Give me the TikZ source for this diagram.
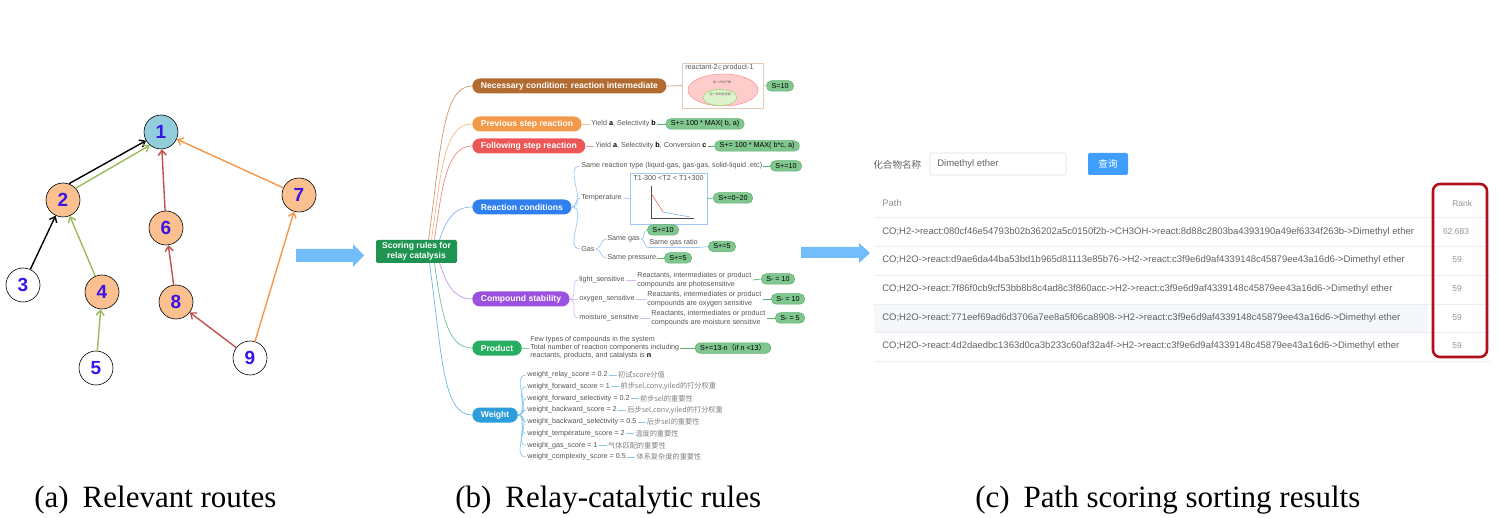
\documentclass[tikz,border=0pt]{standalone}
\usepackage{fontspec}
\setmainfont{Liberation Sans}
\newfontfamily\capfont{Liberation Serif}
\newfontfamily\cjk{Noto Sans CJK SC}
\usepackage{tikz}
\usetikzlibrary{arrows,arrows.meta,positioning,shapes.geometric}
\usepackage{xcolor}

\definecolor{numblue}{HTML}{3A14E6}
\definecolor{nodeorange}{HTML}{FAC090}
\definecolor{nodeblue}{HTML}{92CDDC}
\definecolor{edgegreen}{HTML}{9BBB59}
\definecolor{edgered}{HTML}{C0504D}
\definecolor{edgeorange}{HTML}{F79646}
\definecolor{flowblue}{HTML}{74BDFB}
\definecolor{rootgreen}{HTML}{1E9450}
\definecolor{brbrown}{HTML}{B26B30}
\definecolor{brorange}{HTML}{F2994A}
\definecolor{brred}{HTML}{EB5757}
\definecolor{brblue}{HTML}{2F80ED}
\definecolor{brpurple}{HTML}{9B51E0}
\definecolor{brgreen}{HTML}{27AE60}
\definecolor{brsky}{HTML}{2D9CDB}
\definecolor{pillgreen}{HTML}{80C78F}
\definecolor{pillline}{HTML}{5DAF6E}
\definecolor{subgray}{HTML}{555555}
\definecolor{notegray}{HTML}{808080}
\definecolor{tblgray}{HTML}{606266}
\definecolor{hdrgray}{HTML}{909399}
\definecolor{tblline}{HTML}{EBEEF5}
\definecolor{rowbg}{HTML}{F5F7FA}
\definecolor{btnblue}{HTML}{409EFF}
\definecolor{inborder}{HTML}{DCDFE6}
\definecolor{rankred}{HTML}{B0101C}

\newcommand{\mmfs}{\fontsize{7.2}{8.5}\selectfont}
\newcommand{\brfs}{\fontsize{8.6}{9.8}\selectfont\bfseries}
\newcommand{\tblfs}{\fontsize{9.5}{11}\selectfont}
\newcommand{\capfs}{\capfont\fontsize{31}{33}\selectfont}

\begin{document}
\begin{tikzpicture}[x=1pt,y=-1pt,>={Straight Barb[length=5pt,width=8pt]},semithick]
  \tikzstyle{route}=[circle,draw=black,line width=0.6pt,minimum size=34pt,inner sep=0pt,text=numblue,font=\fontsize{19}{19}\selectfont\bfseries]
  \tikzstyle{mid}=[route,fill=nodeorange]
  \tikzstyle{leaf}=[route,fill=white]
  \tikzstyle{goal}=[route,fill=nodeblue]
  \tikzstyle{link}=[->,line width=1.4pt]
  \tikzstyle{branch}=[anchor=west,rounded corners=7.5pt,minimum height=15pt,inner xsep=8.5pt,inner ysep=0pt,text=white,font=\brfs]
  \tikzstyle{pill}=[draw=pillline,fill=pillgreen,rounded corners=5pt,minimum height=10.5pt,inner xsep=5pt,inner ysep=0pt,line width=0.5pt,font=\mmfs,text=black]
  \tikzstyle{item}=[anchor=west,inner sep=1pt,font=\mmfs,text=subgray,align=left]
  \tikzstyle{twig}=[line width=0.7pt]
  \tikzstyle{witem}=[item]
  \tikzstyle{wnote}=[inner sep=1pt,font=\cjk\mmfs,text=notegray]
  \tikzstyle{cell}=[anchor=west,inner sep=0pt,font=\tblfs,text=tblgray]

  \useasboundingbox (0,0) rectangle (1498,518);

  % (a) relevant routes
  \node[goal] (n1) at (161,132) {1};
  \node[mid]  (n2) at (63,200)  {2};
  \node[leaf] (n3) at (23,285)  {3};
  \node[mid]  (n4) at (102,292) {4};
  \node[leaf] (n5) at (96,368)  {5};
  \node[mid]  (n6) at (166,228) {6};
  \node[mid]  (n7) at (299,195) {7};
  \node[mid]  (n8) at (176,302) {8};
  \node[leaf] (n9) at (250,358) {9};

  \path[link] (n3) edge[black] (n2)
        (n2.70) edge[black] (n1.210)
        (n5) edge[edgegreen] (n4)
        (n4) edge[edgegreen] (n2)
        (n2.43) edge[edgegreen] (n1.230)
        (n9) edge[edgered] (n8)
        (n8) edge[edgered] (n6)
        (n6) edge[edgered] (n1)
        (n9) edge[edgeorange] (n7)
        (n7) edge[edgeorange] (n1);

  % flow arrows
  \fill[flowblue] (296,249) -- (353,249) -- (353,244) -- (364,255.5) -- (353,267) -- (353,262) -- (296,262) -- cycle;
  \fill[flowblue] (801,247) -- (859,247) -- (859,243) -- (870,253) -- (859,263) -- (859,258) -- (801,258) -- cycle;

  % (b) mind map of the rules
  \node[fill=rootgreen,rounded corners=2pt,minimum width=81pt,minimum height=23pt,inner sep=1pt,align=center,text=white,font=\brfs] (root) at (416.5,251.5) {Scoring rules for\\relay catalysis};

  \node[branch,fill=brbrown]  (nec)  at (472,86)  {Necessary condition: reaction intermediate};
  \node[branch,fill=brorange] (prev) at (472,124) {Previous step reaction};
  \node[branch,fill=brred]    (foll) at (472,146) {Following step reaction};
  \node[branch,fill=brblue]   (rc)   at (472,207) {Reaction conditions};
  \node[branch,fill=brpurple] (cs)   at (472,299) {Compound stability};
  \node[branch,fill=brgreen]  (prod) at (472,348) {Product};
  \node[branch,fill=brsky]    (wt)   at (472,415) {Weight};

  \draw[twig,brbrown!70]  ([xshift=12pt]root.north) to[out=82,in=180,out distance=90pt,in distance=30pt] (nec.west);
  \draw[twig,brorange!70] ([xshift=15pt]root.north) to[out=82,in=180,out distance=70pt,in distance=28pt] (prev.west);
  \draw[twig,brred!70]    ([xshift=18pt]root.north) to[out=82,in=180,out distance=55pt,in distance=25pt] (foll.west);
  \draw[twig,brblue!60]   ([xshift=23pt]root.north) to[out=70,in=180,out distance=18pt,in distance=20pt] (rc.west);
  \draw[twig,brpurple!60] ([xshift=23pt]root.south) to[out=-70,in=180,out distance=18pt,in distance=20pt] (cs.west);
  \draw[twig,brgreen!70]  ([xshift=18pt]root.south) to[out=-82,in=180,out distance=50pt,in distance=25pt] (prod.west);
  \draw[twig,brsky!70]    ([xshift=13pt]root.south) to[out=-82,in=180,out distance=90pt,in distance=30pt] (wt.west);

  % necessary condition
  \node[draw=brbrown!35,line width=0.8pt,minimum width=81pt,minimum height=45pt,inner sep=0pt] (necbox) at (722.5,85.5) {};
  \node[item,inner sep=0pt] (nectitle) at (685,68) {reactant-2$\in$product-1};
  \node[ellipse,draw=red!45,fill=red!20,line width=0.5pt,minimum width=70pt,minimum height=32pt] (prodset) at (723,90) {};
  \node[ellipse,draw=green!50!olive!60,fill=yellow!35!green!20,line width=0.5pt,minimum width=34pt,minimum height=16pt] (reactset) at (720,97.5) {};
  \node[font=\cjk\fontsize{3}{3}\selectfont,text=subgray,inner sep=0pt] (prodlbl) at (722,82) {前一步的产物};
  \node[font=\cjk\fontsize{3}{3}\selectfont,text=subgray,inner sep=0pt] (reactlbl) at (720,94.5) {后一步的反应物};
  \node[pill] (p1) at (780,86) {S=10};
  \draw[twig,brbrown!60] (nec.east) -- (necbox.west);
  \draw[twig,brbrown!40] (necbox.east) -- (p1.west);

  % previous / following step
  \node[item] (t2) at (590,124) {Yield \textbf{\color{black}a}, Selectivity \textbf{\color{black}b}};
  \node[pill] (p2) at (705,124) {S+= 100 * MAX( b, a)};
  \draw[twig,brorange!60] (prev.east) -- (t2.west);
  \draw[twig,pillline] (t2.east) -- (p2.west);
  \node[item] (t3) at (594,146) {Yield \textbf{\color{black}a}, Selectivity \textbf{\color{black}b}, Conversion \textbf{\color{black}c}};
  \node[pill] (p3) at (757,146) {S+= 100 * MAX( b*c, a)};
  \draw[twig,brred!60] (foll.east) -- (t3.west);
  \draw[twig,pillline] (t3.east) -- (p3.west);

  % reaction conditions
  \node[item] (srt) at (580,166) {Same reaction type (liquid-gas, gas-gas, solid-liquid .etc)};
  \node[pill] (p4a) at (786,166) {S+=10};
  \node[item] (temp) at (580,198) {Temperature};
  \node[draw=brblue!45,line width=0.8pt,minimum width=77pt,minimum height=51pt,inner sep=0pt] (tbox) at (668.5,198.5) {};
  \node[font=\mmfs,text=subgray,inner sep=0pt] (trange) at (668.5,178.5) {T1-300 <T2 < T1+300};
  \draw[line width=0.4pt,black!70] (651,186) -- (651,218) -- (694,218);
  \draw[line width=0.5pt,red!70] (651,193) -- (663,212);
  \draw[line width=0.5pt,cyan!60!blue!60] (663,212) -- (690,217);
  \node[pill] (p4b) at (733,198) {S+=0\textasciitilde 20};
  \node[item] (gas) at (580,249) {Gas};
  \node[item] (sgas) at (606,239) {Same gas};
  \node[pill] (p4c) at (663,230) {S+=10};
  \node[item,anchor=south west] (ratio) at (648,247.5) {Same gas ratio};
  \node[pill] (p4d) at (722,246.5) {S+=5};
  \node[item] (spres) at (606,258) {Same pressure};
  \node[pill] (p4e) at (678,258) {S+=5};
  \draw[twig,brblue!45] (rc.east) to[out=0,in=180] (srt.west);
  \draw[twig,brblue!45] (rc.east) to[out=0,in=180] (temp.west);
  \draw[twig,brblue!45] (rc.east) to[out=0,in=180] (gas.west);
  \draw[twig,pillline] (srt.east) -- (p4a.west);
  \draw[twig,brblue!45] (temp.east) -- (tbox.west);
  \draw[twig,pillline] (tbox.east) -- (p4b.west);
  \draw[twig,brblue!45] (gas.east) to[out=0,in=180] (sgas.west);
  \draw[twig,brblue!45] (gas.east) to[out=0,in=180] (spres.west);
  \draw[twig,brblue!45] (sgas.east) to[out=0,in=180] (p4c.west);
  \draw[twig,brblue!45] (sgas.east) to[out=0,in=180] (ratio.south west) -- (ratio.south east) -- (p4d.west);
  \draw[twig,pillline] (spres.east) -- (p4e.west);

  % compound stability
  \node[item] (ls) at (578,280) {light\_sensitive};
  \node[item] (d1) at (636,280) {Reactants, intermediates or product\\compounds are photosensitive};
  \node[pill] (p5a) at (778,279) {S- = 10};
  \node[item] (os) at (578,299) {oxygen\_sensitive};
  \node[item] (d2) at (646,299) {Reactants, intermediates or product\\compounds are oxygen sensitive};
  \node[pill] (p5b) at (788,299) {S- = 10};
  \node[item] (ms) at (578,318) {moisture\_sensitive};
  \node[item] (d3) at (650,318) {Reactants, intermediates or product\\compounds are moisture sensitive};
  \node[pill] (p5c) at (790,318) {S- = 5};
  \draw[twig,brpurple!40] (cs.east) to[out=0,in=180] (ls.west);
  \draw[twig,brpurple!40] (cs.east) to[out=0,in=180] (os.west);
  \draw[twig,brpurple!40] (cs.east) to[out=0,in=180] (ms.west);
  \draw[twig,brpurple!40] (ls.east) -- (d1.west);
  \draw[twig,brpurple!40] (os.east) -- (d2.west);
  \draw[twig,brpurple!40] (ms.east) -- (d3.west);
  \draw[twig,pillline] (d1.east) -- (p5a.west);
  \draw[twig,pillline] (d2.east) -- (p5b.west);
  \draw[twig,pillline] (d3.east) -- (p5c.west);

  % product
  \node[item,font=\fontsize{7.2}{8}\selectfont] (ptext) at (529,348) {Few types of compounds in the system\\Total number of reaction components including\\reactants, products, and catalysts is \textbf{\color{black}n}};
  \node[pill] (p6) at (733,348) {S+=13-n{\cjk（}if n <13{\cjk）}};
  \draw[twig,brgreen!60] (prod.east) -- (ptext.west);
  \draw[twig,pillline] (ptext.east) -- (p6.west);

  % weights
  \node[witem] (w1) at (526,375)   {weight\_relay\_score = 0.2};
  \node[witem] (w2) at (526,386.7) {weight\_forward\_score = 1};
  \node[witem] (w3) at (526,398.4) {weight\_forward\_selectivity = 0.2};
  \node[witem] (w4) at (526,410.1) {weight\_backward\_score = 2};
  \node[witem] (w5) at (526,421.9) {weight\_backward\_selectivity = 0.5};
  \node[witem] (w6) at (526,433.6) {weight\_temperature\_score = 2};
  \node[witem] (w7) at (526,445.3) {weight\_gas\_score = 1};
  \node[witem] (w8) at (526,457)   {weight\_complexity\_score = 0.5};
  \node[wnote,right=8pt of w1] (c1) {初试score分值};
  \node[wnote,right=8pt of w2] (c2) {前步sel,conv,yiled的打分权重};
  \node[wnote,right=8pt of w3] (c3) {前步sel的重要性};
  \node[wnote,right=8pt of w4] (c4) {后步sel,conv,yiled的打分权重};
  \node[wnote,right=8pt of w5] (c5) {后步sel的重要性};
  \node[wnote,right=8pt of w6] (c6) {温度的重要性};
  \node[wnote,right=8pt of w7] (c7) {气体匹配的重要性};
  \node[wnote,right=8pt of w8] (c8) {体系复杂度的重要性};
  \draw[twig,brsky!55] (wt.east) to[out=0,in=180] (w1.west);
  \draw[twig,brsky!55] (wt.east) to[out=0,in=180] (w2.west);
  \draw[twig,brsky!55] (wt.east) to[out=0,in=180] (w3.west);
  \draw[twig,brsky!55] (wt.east) to[out=0,in=180] (w4.west);
  \draw[twig,brsky!55] (wt.east) to[out=0,in=180] (w5.west);
  \draw[twig,brsky!55] (wt.east) to[out=0,in=180] (w6.west);
  \draw[twig,brsky!55] (wt.east) to[out=0,in=180] (w7.west);
  \draw[twig,brsky!55] (wt.east) to[out=0,in=180] (w8.west);
  \draw[twig,brsky!55] (w1) -- (c1);
  \draw[twig,brsky!55] (w2) -- (c2);
  \draw[twig,brsky!55] (w3) -- (c3);
  \draw[twig,brsky!55] (w4) -- (c4);
  \draw[twig,brsky!55] (w5) -- (c5);
  \draw[twig,brsky!55] (w6) -- (c6);
  \draw[twig,brsky!55] (w7) -- (c7);
  \draw[twig,brsky!55] (w8) -- (c8);

  % (c) scoring results
  \fill[rowbg] (874,304) rectangle (1428,332);
  \draw[tblline,line width=0.8pt] (874,217) -- (1490,217)
        (874,246) -- (1490,246) (874,275) -- (1490,275)
        (874,304) -- (1490,304) (874,332) -- (1490,332)
        (874,361) -- (1490,361);
  \node[cell,font=\cjk\fontsize{9.6}{11}\selectfont] (cname) at (873,165) {化合物名称};
  \node[draw=inborder,line width=0.6pt,rounded corners=2pt,minimum width=136pt,minimum height=22pt] (inbox) at (998,164) {};
  \node[cell] (query) at (937,164) {Dimethyl ether};
  \node[fill=btnblue,rounded corners=2pt,minimum width=40pt,minimum height=22pt,inner sep=0pt,text=white,font=\cjk\fontsize{9.6}{11}\selectfont] (btn) at (1108,164) {查询};
  \node[cell,text=hdrgray] (path) at (882,203) {Path};
  \node[cell,text=hdrgray,font=\fontsize{8.5}{10}\selectfont] (rank) at (1452,203) {Rank};
  \node[cell] (r1) at (882,232) {CO;H2->react:080cf46e54793b02b36202a5c0150f2b->CH3OH->react:8d88c2803ba4393190a49ef6334f263b->Dimethyl ether};
  \node[cell] (r2) at (882,260) {CO;H2O->react:d9ae6da44ba53bd1b965d81113e85b76->H2->react:c3f9e6d9af4339148c45879ee43a16d6->Dimethyl ether};
  \node[cell] (r3) at (882,289) {CO;H2O->react:7f86f0cb9cf53bb8b8c4ad8c3f860acc->H2->react:c3f9e6d9af4339148c45879ee43a16d6->Dimethyl ether};
  \node[cell] (r4) at (882,318) {CO;H2O->react:771eef69ad6d3706a7ee8a5f06ca8908->H2->react:c3f9e6d9af4339148c45879ee43a16d6->Dimethyl ether};
  \node[cell] (r5) at (882,346) {CO;H2O->react:4d2daedbc1363d0ca3b233c60af32a4f->H2->react:c3f9e6d9af4339148c45879ee43a16d6->Dimethyl ether};
  \node[cell,anchor=center,text=hdrgray,font=\fontsize{8.5}{10}\selectfont] (s1) at (1456,232) {62.683};
  \node[cell,anchor=center,text=hdrgray,font=\fontsize{8.5}{10}\selectfont] (s2) at (1457,260) {59};
  \node[cell,anchor=center,text=hdrgray,font=\fontsize{8.5}{10}\selectfont] (s3) at (1457,289) {59};
  \node[cell,anchor=center,text=hdrgray,font=\fontsize{8.5}{10}\selectfont] (s4) at (1457,318) {59};
  \node[cell,anchor=center,text=hdrgray,font=\fontsize{8.5}{10}\selectfont] (s5) at (1457,346) {59};
  \draw[rankred,line width=2.6pt,rounded corners=7pt] (1433,184) rectangle (1487,357);

  % captions
  \node[anchor=west,inner sep=0pt,font=\capfs] (capa) at (34,500) {(a)\hspace{14pt}Relevant routes};
  \node[anchor=west,inner sep=0pt,font=\capfs] (capb) at (455,500) {(b)\hspace{14pt}Relay-catalytic rules};
  \node[anchor=west,inner sep=0pt,font=\capfs] (capc) at (975,500) {(c)\hspace{14pt}Path scoring sorting results};
\end{tikzpicture}
\end{document}
